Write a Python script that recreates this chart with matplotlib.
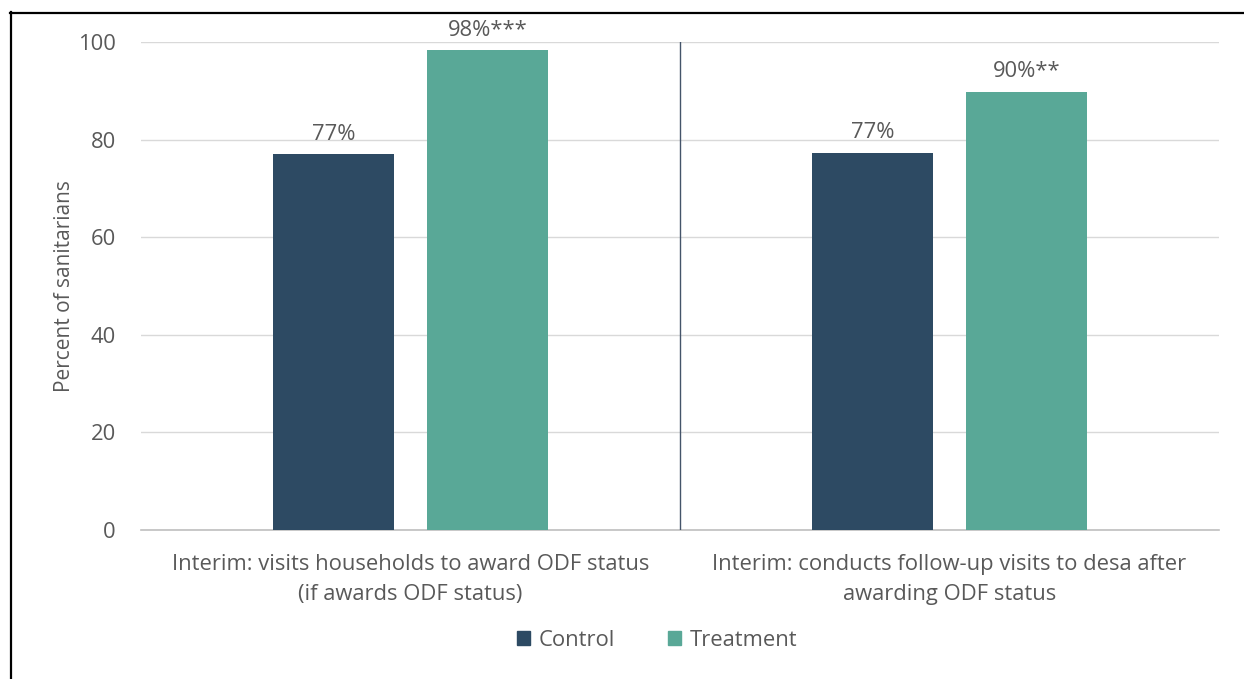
import matplotlib
matplotlib.use("Agg")
import matplotlib.pyplot as plt
from matplotlib.lines import Line2D
from matplotlib.patches import Patch
import numpy as np

plt.rcParams['font.family'] = ['Open Sans', 'DejaVu Sans']

categories = ["Interim: visits households to award ODF status\n(if awards ODF status)",
              "Interim: conducts follow-up visits to desa after\nawarding ODF status"]
control = [77, 77.3]
treatment = [98.3, 89.8]
control_labels = ["77%", "77%"]
treatment_labels = ["98%***", "90%**"]
series_names = ["Control", "Treatment"]
yticks = [0, 20, 40, 60, 80, 100]

c_control = "#2D4A63"
c_treat = "#59A897"
text_col = "#595959"
fs = 15.8

W, H = 1244, 679
fig = plt.figure(figsize=(W / 100, H / 100), dpi=100)
ax = fig.add_axes([141 / W, 1 - 530 / H, (1219 - 141) / W, (530 - 42) / H])

x = np.arange(len(categories))
bw = 0.2245
off = 0.143
b1 = ax.bar(x - off, control, bw, color=c_control, zorder=3)
b2 = ax.bar(x + off, treatment, bw, color=c_treat, zorder=3)

for bars, labels in ((b1, control_labels), (b2, treatment_labels)):
    for rect, lab in zip(bars, labels):
        ax.annotate(lab, (rect.get_x() + rect.get_width() / 2, rect.get_height()),
                    xytext=(0, 7), textcoords="offset points", ha="center", va="bottom",
                    fontsize=fs, color=text_col)

ax.set_xlim(-0.5, len(categories) - 0.5)
ax.set_ylim(0, 100)
ax.set_yticks(yticks)
ax.set_yticklabels([str(t) for t in yticks], fontsize=fs, color=text_col)
ax.yaxis.grid(True, color="#D9D9D9", linewidth=1.0, zorder=0)
ax.set_axisbelow(True)
ax.tick_params(axis="y", length=0, pad=18)
ax.tick_params(axis="x", length=0, pad=17)
ax.set_xticks(x)
ax.set_xticklabels(categories, fontsize=fs, color=text_col, linespacing=1.6)
for s in ["top", "right", "left"]:
    ax.spines[s].set_visible(False)
ax.spines["bottom"].set_color("#BFBFBF")
ax.spines["bottom"].set_linewidth(1.2)

# separator between the two groups
ax.axvline(0.5, color="#44546A", linewidth=1.0, zorder=4)

ax.set_ylabel("Percent of sanitarians", fontsize=15, color=text_col, labelpad=2)

handles = [Patch(color=c_control), Patch(color=c_treat)]
fig.legend(handles, series_names, loc="center", bbox_to_anchor=(657 / W, 1 - 640 / H),
           ncol=2, frameon=False, fontsize=fs, handlelength=0.6, handleheight=0.6,
           handletextpad=0.4, columnspacing=2.4, labelcolor=text_col)

# frame lines along the top and left edges
fig.add_artist(Line2D([10 / W, 1], [1 - 12.5 / H, 1 - 12.5 / H], transform=fig.transFigure,
                      color="black", linewidth=1.6))
fig.add_artist(Line2D([10.5 / W, 10.5 / W], [0, 1 - 12 / H], transform=fig.transFigure,
                      color="black", linewidth=1.6))

fig.savefig("out.png", dpi=100, facecolor="white")
